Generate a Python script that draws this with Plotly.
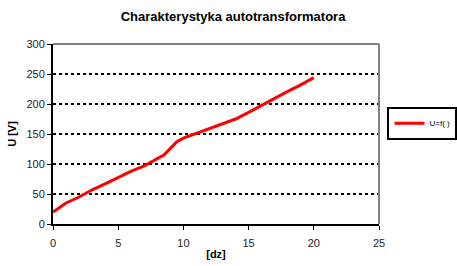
import plotly.graph_objects as go

dz = [0, 0.5, 1, 2, 3, 4, 5, 6, 7, 8, 8.5, 9, 9.5, 10, 11, 12, 13, 14, 15, 16, 17, 18, 19, 20]
U = [20, 28, 35, 45, 57, 67, 78, 88, 97, 109, 115, 126, 137, 143, 151, 160, 168, 175, 186, 198, 210, 221, 232, 244]

fig = go.Figure()
fig.add_trace(go.Scatter(x=dz, y=U, mode="lines", name="U=f( )",
                         line=dict(color="#ff0000", width=3)))

font = "Liberation Sans, Arial, sans-serif"
fig.update_layout(
    width=457, height=266,
    margin=dict(l=53, r=78, t=44, b=42, autoexpand=False),
    paper_bgcolor="white", plot_bgcolor="white",
    font=dict(family=font, size=11, color="#222222"),
    title=dict(text="<b>Charakterystyka autotransformatora</b>", x=0.51, xanchor="center",
               y=0.94, yanchor="middle", font=dict(size=13, color="black")),
    showlegend=True,
    legend=dict(x=1.026, y=0.56, xanchor="left", yanchor="middle",
                bordercolor="black", borderwidth=2, font=dict(size=8, color="black"),
                itemwidth=30, tracegroupgap=0),
    xaxis=dict(range=[0, 25], tickvals=[0, 5, 10, 15, 20, 25], showgrid=False,
               showline=True, linecolor="black", linewidth=2, mirror=False,
               ticks="outside", ticklen=4, tickcolor="black", zeroline=False,
               automargin=False, ticklabelstandoff=4,
               title=dict(text="<b>[dz]</b>", standoff=2, font=dict(size=11, color="black"))),
    yaxis=dict(range=[0, 300], tickvals=[0, 50, 100, 150, 200, 250, 300],
               showgrid=True, gridcolor="black", griddash="dot", gridwidth=1.5,
               showline=True, linecolor="black", linewidth=2,
               ticks="outside", ticklen=4, tickcolor="black", zeroline=False,
               automargin=False,
               title=dict(text="<b>U [V]</b>", standoff=8, font=dict(size=11, color="black"))),
)
# gray top/right border of the plot area
fig.add_shape(type="line", xref="paper", yref="paper", x0=0, x1=1, y0=1, y1=1,
              line=dict(color="#808080", width=2))
fig.add_shape(type="line", xref="paper", yref="paper", x0=1, x1=1, y0=0, y1=1,
              line=dict(color="#808080", width=2))

fig.write_html("out.html")
